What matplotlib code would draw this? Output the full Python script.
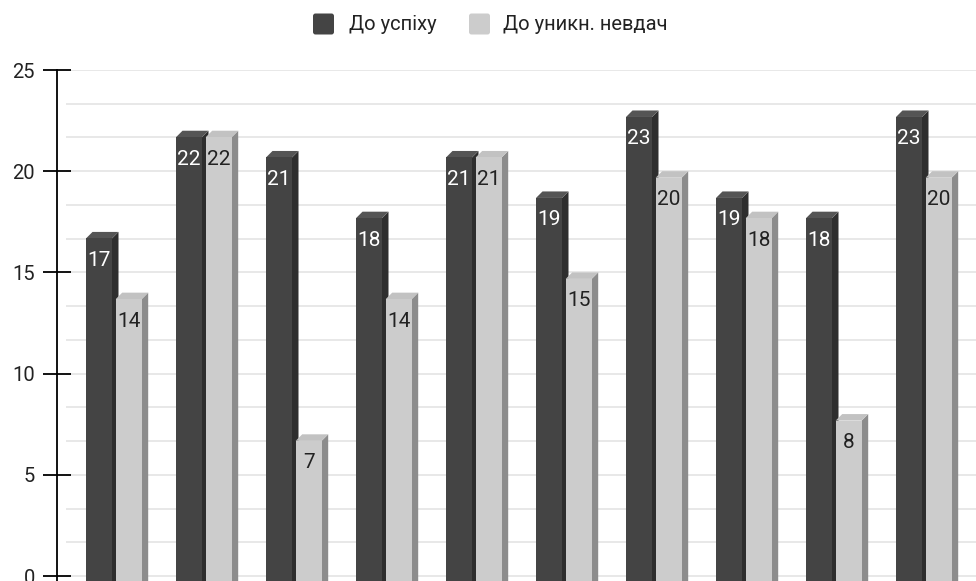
import matplotlib
matplotlib.use("Agg")
import matplotlib.pyplot as plt
from matplotlib.patches import Polygon, FancyBboxPatch
import numpy as np

plt.rcParams['font.family'] = ['Roboto', 'DejaVu Sans']

series_names = ["До успіху", "До уникн. невдач"]
success = [17, 22, 21, 18, 21, 19, 23, 19, 18, 23]
avoid = [14, 22, 7, 14, 21, 15, 20, 18, 8, 20]
y_ticks = [0, 5, 10, 15, 20, 25]

W, H = 976, 581
fig = plt.figure(figsize=(W / 100, H / 100), dpi=100)

# axes in pixel terms: left spine at x=57, y=25 at top 70, y=0 at 576
ax_left, ax_top = 57, 70
ax = fig.add_axes([ax_left / W, 0, 1 - ax_left / W, (H - ax_top) / H])
px_per_unit = (576 - ax_top) / 25.0
ax.set_ylim(-(H - 576) / px_per_unit, 25)
group_px = 90.0
ax.set_xlim(0, (W - ax_left) / group_px)

# bar geometry (data units)
bar_w = 26 / group_px
depth_x = 6.5 / group_px
depth_y = 6.5 / px_per_unit
dark_off = (86 - ax_left) / group_px
light_off = (115.7 - ax_left) / group_px
bottom = -2.0

styles = [
    dict(front="#444444", side="#2e2e2e", top="#555555", text="white"),
    dict(front="#cccccc", side="#8c8c8c", top="#c2c2c2", text="#222222"),
]

# grid lines every 5/3
grid_vals = np.arange(0, 25.001, 5 / 3)
ax.hlines(grid_vals, (66 - ax_left) / group_px, ax.get_xlim()[1],
          colors="#e4e4e4", linewidth=1.2, zorder=0)


def draw_bar(left, v, st, z):
    ft = v - depth_y
    fb = bottom - depth_y
    front = Polygon([(left, fb), (left + bar_w, fb), (left + bar_w, ft), (left, ft)],
                    closed=True, facecolor=st["front"], edgecolor="none", zorder=z)
    side = Polygon([(left + bar_w, fb), (left + bar_w + depth_x, bottom),
                    (left + bar_w + depth_x, v), (left + bar_w, ft)],
                   closed=True, facecolor=st["side"], edgecolor="none", zorder=z)
    top = Polygon([(left, ft), (left + bar_w, ft), (left + bar_w + depth_x, v),
                   (left + depth_x, v)],
                  closed=True, facecolor=st["top"], edgecolor="none", zorder=z)
    for p in (side, top, front):
        ax.add_patch(p)
    ax.text(left + bar_w / 2, ft - 22 / px_per_unit, f"{v:g}", ha="center", va="center",
            fontsize=15, color=st["text"], zorder=z + 0.5)


for i, (a, b) in enumerate(zip(success, avoid)):
    draw_bar(i + dark_off, a, styles[0], 2 + i * 0.1)
    draw_bar(i + light_off, b, styles[1], 2.05 + i * 0.1)

# axis styling
for s in ("top", "right", "bottom"):
    ax.spines[s].set_visible(False)
ax.spines["left"].set_color("black")
ax.spines["left"].set_linewidth(1.3)
ax.spines["left"].set_bounds(-1, 25)
ax.set_yticks(y_ticks)
ax.set_yticklabels([str(t) for t in y_ticks])
ax.tick_params(axis="y", direction="inout", length=20, width=1.3, color="black",
               labelsize=14.5, labelcolor="#222222", pad=6)
ax.set_xticks([])
ax.patch.set_alpha(0)

# legend drawn in pixel space
def px(x, y):
    return (x / 100, (H - y) / 100)

legend_items = [(313, "#444444", 349, series_names[0]),
                (469, "#cccccc", 503, series_names[1])]
for sx, col, tx, label in legend_items:
    x0, y0 = px(sx, 34.5)
    fig.add_artist(FancyBboxPatch((x0, y0), 0.21, 0.21,
                                  boxstyle="round,pad=0,rounding_size=0.025",
                                  facecolor=col, edgecolor="none",
                                  transform=fig.dpi_scale_trans))
    tx_, ty_ = px(tx, 24)
    fig.text(tx_, ty_, label, transform=fig.dpi_scale_trans, ha="left", va="center",
             fontsize=14.5, color="#222222")

fig.savefig("out.png", dpi=100)
